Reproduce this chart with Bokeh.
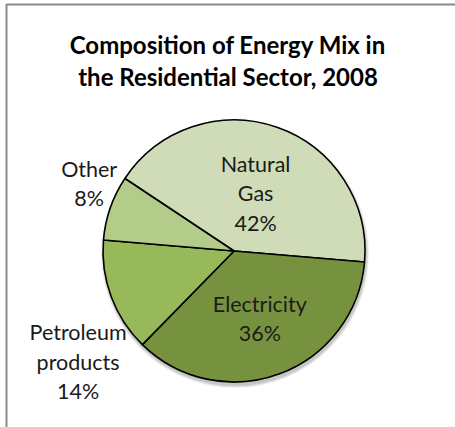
import math
from bokeh.plotting import figure
from bokeh.models import Range1d
from bokeh.core.properties import value
from bokeh.embed import file_html
from bokeh.resources import INLINE

# ---- data ----
categories = ["Natural Gas", "Electricity", "Petroleum products", "Other"]
shares = [42, 36, 14, 8]
label_texts = ["Natural\nGas\n42%", "Electricity\n36%", "Petroleum\nproducts\n14%", "Other\n8%"]
title_text = "Composition of Energy Mix in\nthe Residential Sector, 2008"

# ---- style ----
colors = ["#cfdcb7", "#77923e", "#98b95a", "#b3cc8a"]
W, H = 455, 427
cx, cy, R = 233.5, 427 - 250.5, 131
start_deg = 146.4
label_dist = [0.47, 0.55, 1.46, 1.22]
label_shift = [-1.3, 0.6, 15.0, -5.8]
FONT = "Lato"

p = figure(width=W, height=H, output_backend="svg", toolbar_location=None,
           x_range=Range1d(0, W), y_range=Range1d(0, H), min_border=0)
p.axis.visible = False
p.grid.visible = False
p.outline_line_color = None
p.background_fill_color = "white"
p.border_fill_color = "white"

# chart border (top and left visible)
p.multi_line(xs=[[6, 6, W + 5]], ys=[[-5, H - 4, H - 4]], line_color="#8a8a8a", line_width=2)

# shadow
for dr, a in [(3, 0.06), (2, 0.08), (1, 0.10)]:
    p.circle(x=cx + 1, y=cy - 3, radius=R + dr, fill_color="#000000", fill_alpha=a, line_color=None)

total = float(sum(shares))
cum = 0.0
starts, ends, lx, ly = [], [], [], []
for i, s in enumerate(shares):
    a0 = start_deg - 360 * cum / total
    cum += s
    a1 = start_deg - 360 * cum / total
    starts.append(math.radians(a0))
    ends.append(math.radians(a1))
    mid = math.radians((a0 + a1) / 2 + label_shift[i])
    lx.append(cx + label_dist[i] * R * math.cos(mid))
    ly.append(cy + label_dist[i] * R * math.sin(mid))

p.wedge(x=cx, y=cy, radius=R, start_angle=starts, end_angle=ends, direction="clock",
        fill_color=colors, line_color="black", line_width=1.6)

p.text(x=lx, y=ly, text=label_texts, text_font=value(FONT), text_font_size="21.5px",
       text_align="center", text_baseline="middle", text_color="#1a1a1a", text_line_height=1.13)

p.text(x=[227.5], y=[427 - 60], text=[title_text], text_font=value(FONT), text_font_size="24px",
       text_font_style="bold", text_align="center", text_baseline="middle", text_color="black",
       text_line_height=1.08)

open("out.html", "w").write(file_html(p, INLINE))
